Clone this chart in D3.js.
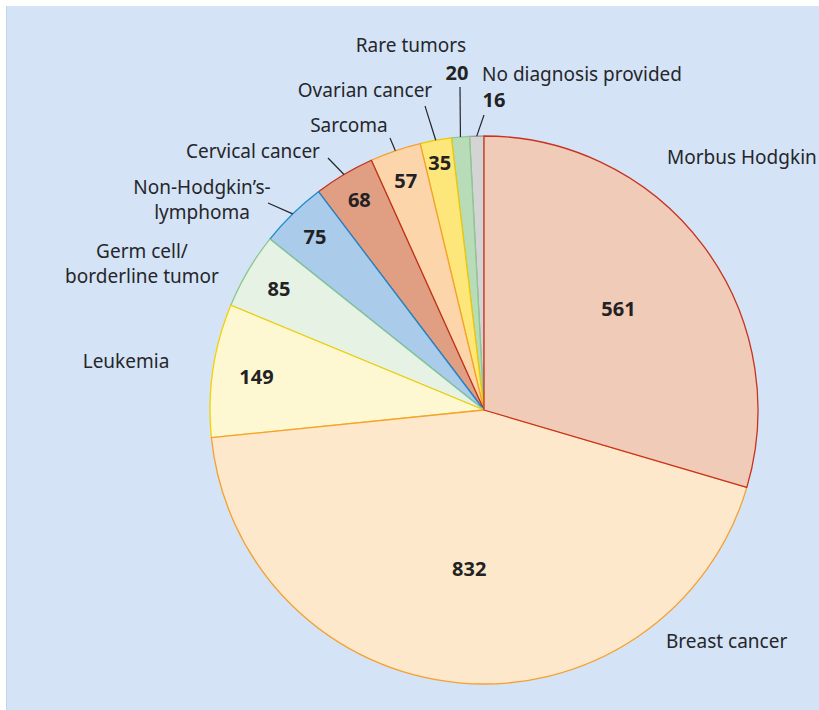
<!DOCTYPE html>
<html>
<head>
<meta charset="utf-8">
<script src="https://cdn.jsdelivr.net/npm/d3@7/dist/d3.min.js"></script>
<style>
  html,body{margin:0;padding:0;background:#fff;}
  svg{display:block;}
  .name{font-family:"Noto Sans",sans-serif;font-size:19px;fill:#26262b;}
  .val{font-family:"Noto Sans",sans-serif;font-size:20px;font-weight:bold;fill:#222;}
</style>
</head>
<body>
<div id="chart"></div>
<script>
// diagnoses, clockwise from 12 o'clock
var categories=["Morbus Hodgkin","Breast cancer","Leukemia","Germ cell/ borderline tumor","Non-Hodgkin’s- lymphoma","Cervical cancer","Sarcoma","Ovarian cancer","Rare tumors","No diagnosis provided"];
var counts=[561,832,149,85,75,68,57,35,20,16];
var fills=["#f0cbb8","#fee8cc","#fef8d2","#e6f2e4","#aacbea","#e09e82","#fdd5ab","#fde67a","#b8dcb8","#d4d4d4"];
var strokes=["#c8321e","#f5a031","#f5d000","#8cc890","#1a8ad0","#c0301e","#f5a031","#f0c800","#8cc890","#a0a0a0"];

// layout for labels (not data): name position, anchor, value-label radius, leader end
var layout=[
  {nx:667,ny:164,anchor:"start",vr:168},
  {nx:666,ny:648,anchor:"start",vr:160},
  {nx:126,ny:368,anchor:"middle",vr:230},
  {nx:142,ny:258,anchor:"middle",vr:238},
  {nx:202,ny:194,anchor:"middle",vr:242,lead:[268,203]},
  {nx:253,ny:158,anchor:"middle",vr:244,lead:[328,158]},
  {nx:349,ny:132,anchor:"middle",vr:242,lead:[390,138]},
  {nx:365,ny:97,anchor:"middle",vr:251,lead:[425,106]},
  {nx:411,ny:52,anchor:"middle",vr:null,lead:[460,87],vx:457,vy:80},
  {nx:482,ny:81,anchor:"start",vr:null,lead:[484,115],vx:494,vy:107}
];

var W=819,H=710,cx=484,cy=410,R=274;
var svg=d3.select("#chart").append("svg").attr("width",W).attr("height",H);
svg.append("rect").attr("x",6).attr("y",6).attr("width",W-6).attr("height",H-6).attr("fill","#d4e4f6");
svg.append("line").attr("x1",6.5).attr("x2",6.5).attr("y1",6).attr("y2",H).attr("stroke","#c2d4ea");

var rows=categories.map(function(c,i){return {name:c,count:counts[i],fill:fills[i],stroke:strokes[i],lay:layout[i]};});
var pie=d3.pie().sort(null).value(function(d){return d.count;});
var arcs=pie(rows);
var arc=d3.arc().innerRadius(0).outerRadius(R);
var g=svg.append("g").attr("transform","translate("+cx+","+cy+")");

// drawn in reverse so each shared edge takes the colour of the earlier slice
g.selectAll("path.slice").data(arcs.slice().reverse()).enter().append("path").attr("class","slice")
  .attr("d",arc).attr("fill",function(d){return d.data.fill;})
  .attr("stroke",function(d){return d.data.stroke;}).attr("stroke-width",1.3).attr("stroke-linejoin","round");

arcs.forEach(function(d){
  var L=d.data.lay, x, y;
  if(L.vr){
    var a=(d.startAngle+d.endAngle)/2;
    x=cx+L.vr*Math.sin(a); y=cy-L.vr*Math.cos(a)+7;
  } else { x=L.vx; y=L.vy; }
  svg.append("text").attr("class","val").attr("x",x).attr("y",y).attr("text-anchor","middle").text(d.data.count);
  // leader line to the outer arc at the slice's mid angle
  if(L.lead){
    var m=(d.startAngle+d.endAngle)/2;
    svg.append("line").attr("x1",L.lead[0]).attr("y1",L.lead[1])
      .attr("x2",cx+R*Math.sin(m)).attr("y2",cy-R*Math.cos(m))
      .attr("stroke","#26262b").attr("stroke-width",1.2);
  }
  // name, split on "/ " or "- " into two lines
  var nm=d.data.name, parts=[nm], k=nm.search(/[\/-] /);
  if(k>=0) parts=[nm.slice(0,k+1),nm.slice(k+2)];
  var t=svg.append("text").attr("class","name").attr("x",L.nx).attr("y",L.ny).attr("text-anchor",L.anchor);
  parts.forEach(function(p,i){t.append("tspan").attr("x",L.nx).attr("dy",i?25:0).text(p);});
});
</script>
</body>
</html>
